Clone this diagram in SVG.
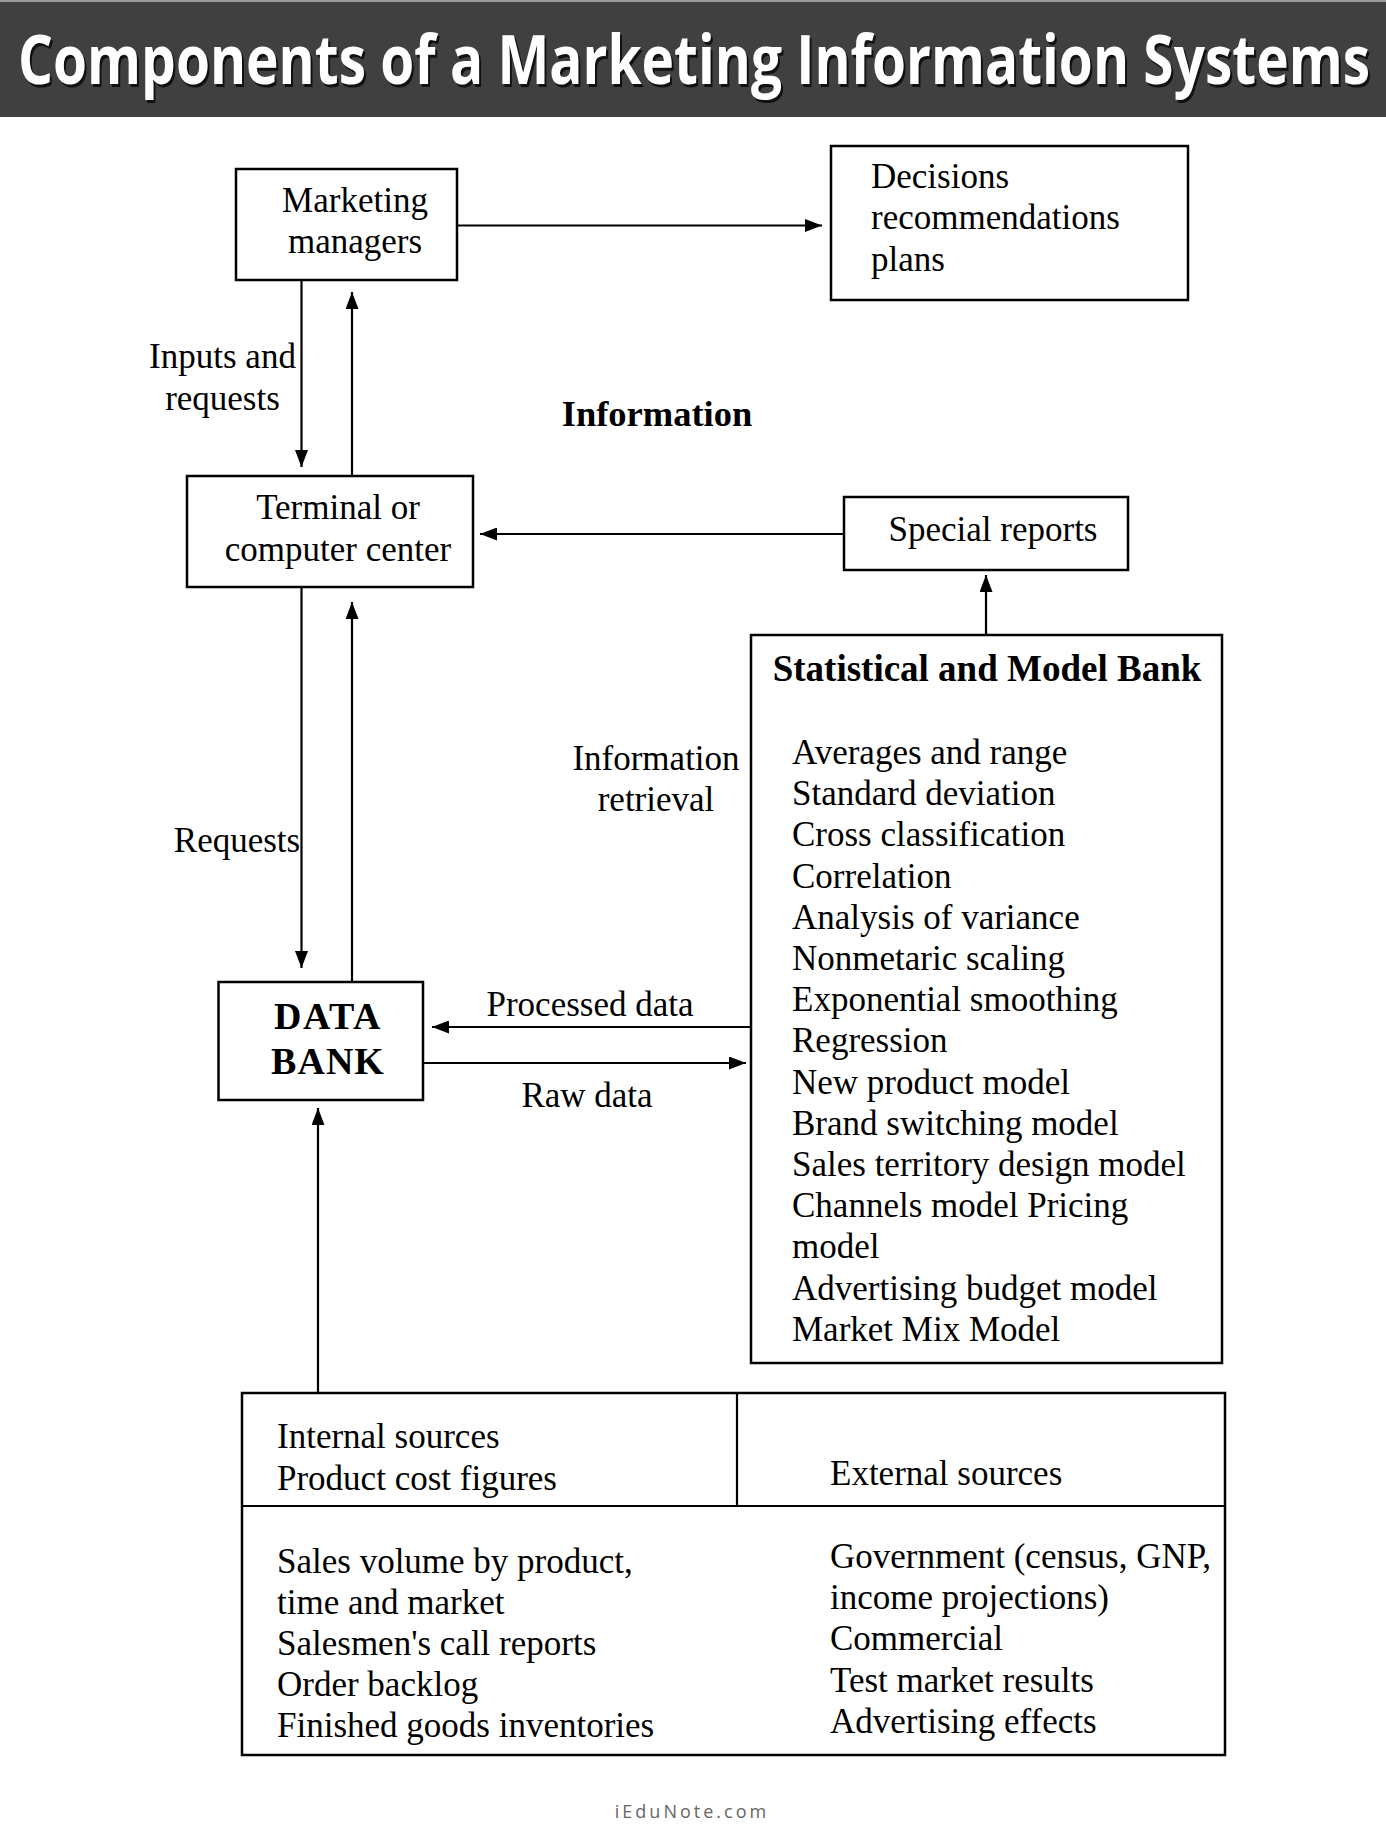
<svg xmlns="http://www.w3.org/2000/svg" width="1386" height="1832" viewBox="0 0 1386 1832">
<defs>
<style>
.box{fill:#fff;stroke:#000;stroke-width:2.5}
.ln{fill:none;stroke:#000;stroke-width:2.2}
.t{font-family:"Liberation Serif","Times New Roman",serif;font-size:35px;fill:#000}
.b{font-weight:bold}
.c{text-anchor:middle}
.ttl{font-family:"Open Sans","Noto Sans",sans-serif;font-weight:bold;font-size:68px}
</style>
<marker id="ah" viewBox="0 0 17 13" refX="17" refY="6.5" markerWidth="17" markerHeight="13" markerUnits="userSpaceOnUse" orient="auto">
<path d="M0,0 L17,6.5 L0,13 Z" fill="#000"/>
</marker>
</defs>
<rect x="0" y="0" width="1386" height="1832" fill="#fff"/>
<g id="title">
<rect x="0" y="0" width="1386" height="117" fill="#404040"/>
<rect x="0" y="0" width="1386" height="2" fill="#9a9a9a"/>
<g transform="translate(20,87) scale(0.74,1)">
<text class="ttl" x="0" y="0" fill="#111" textLength="1827" lengthAdjust="spacingAndGlyphs">Components of a Marketing Information Systems</text>
</g>
<g transform="translate(18,84) scale(0.74,1)">
<text class="ttl" x="0" y="0" fill="#fff" textLength="1827" lengthAdjust="spacingAndGlyphs">Components of a Marketing Information Systems</text>
</g>
</g>
<g id="connectors">
<line class="ln" x1="457" y1="225.5" x2="822" y2="225.5" marker-end="url(#ah)"/>
<line class="ln" x1="301.5" y1="280" x2="301.5" y2="467" marker-end="url(#ah)"/>
<line class="ln" x1="352" y1="476" x2="352" y2="292" marker-end="url(#ah)"/>
<line class="ln" x1="844" y1="534" x2="480" y2="534" marker-end="url(#ah)"/>
<line class="ln" x1="986" y1="635" x2="986" y2="575" marker-end="url(#ah)"/>
<line class="ln" x1="301.5" y1="587" x2="301.5" y2="968" marker-end="url(#ah)"/>
<line class="ln" x1="352" y1="982" x2="352" y2="602" marker-end="url(#ah)"/>
<line class="ln" x1="754" y1="1027" x2="432" y2="1027" marker-end="url(#ah)"/>
<line class="ln" x1="423" y1="1063" x2="746" y2="1063" marker-end="url(#ah)"/>
<line class="ln" x1="318" y1="1393" x2="318" y2="1108" marker-end="url(#ah)"/>
</g>
<g id="labels">
<text class="t c" x="222.5" y="368">Inputs and</text>
<text class="t c" x="222.5" y="410">requests</text>
<text class="t b c" x="657" y="426" style="font-size:36.5px">Information</text>
<text class="t c" x="237" y="852">Requests</text>
<text class="t c" x="656" y="770">Information</text>
<text class="t c" x="656" y="811">retrieval</text>
<text class="t c" x="590" y="1016">Processed data</text>
<text class="t c" x="587" y="1107">Raw data</text>
</g>
<g id="marketing-managers">
<rect class="box" x="236" y="169" width="221" height="111"/>
<text class="t c" x="355" y="212">Marketing</text>
<text class="t c" x="355" y="253">managers</text>
</g>
<g id="decisions">
<rect class="box" x="831" y="146" width="357" height="154"/>
<text class="t" x="871" y="188">Decisions</text>
<text class="t" x="871" y="229">recommendations</text>
<text class="t" x="871" y="271">plans</text>
</g>
<g id="terminal">
<rect class="box" x="187" y="476" width="286" height="111"/>
<text class="t c" x="338" y="519">Terminal or</text>
<text class="t c" x="338" y="561">computer center</text>
</g>
<g id="special-reports">
<rect class="box" x="844" y="497" width="284" height="73"/>
<text class="t c" x="993" y="541">Special reports</text>
</g>
<g id="statistical-bank">
<rect class="box" x="751" y="635" width="471" height="728"/>
<text class="t b c" x="987" y="681" style="font-size:37px">Statistical and Model Bank</text>
<text class="t" x="792" y="764">Averages and range</text>
<text class="t" x="792" y="805">Standard deviation</text>
<text class="t" x="792" y="846">Cross classification</text>
<text class="t" x="792" y="888">Correlation</text>
<text class="t" x="792" y="929">Analysis of variance</text>
<text class="t" x="792" y="970">Nonmetaric scaling</text>
<text class="t" x="792" y="1011">Exponential smoothing</text>
<text class="t" x="792" y="1052">Regression</text>
<text class="t" x="792" y="1094">New product model</text>
<text class="t" x="792" y="1135">Brand switching model</text>
<text class="t" x="792" y="1176">Sales territory design model</text>
<text class="t" x="792" y="1217">Channels model Pricing</text>
<text class="t" x="792" y="1258">model</text>
<text class="t" x="792" y="1300">Advertising budget model</text>
<text class="t" x="792" y="1341">Market Mix Model</text>
</g>
<g id="data-bank">
<rect class="box" x="218.5" y="982" width="204.5" height="118"/>
<text class="t b c" x="328" y="1029" style="font-size:38px;letter-spacing:1.5px">DATA</text>
<text class="t b c" x="328" y="1074" style="font-size:38px;letter-spacing:1px">BANK</text>
</g>
<g id="sources">
<rect class="box" x="242" y="1393" width="983" height="362"/>
<line class="ln" x1="242" y1="1506" x2="1225" y2="1506" stroke-width="2.5"/>
<line class="ln" x1="737" y1="1393" x2="737" y2="1506"/>
<text class="t" x="277" y="1448">Internal sources</text>
<text class="t" x="277" y="1490">Product cost figures</text>
<text class="t" x="830" y="1485">External sources</text>
<text class="t" x="277" y="1573">Sales volume by product,</text>
<text class="t" x="277" y="1614">time and market</text>
<text class="t" x="277" y="1655">Salesmen's call reports</text>
<text class="t" x="277" y="1696">Order backlog</text>
<text class="t" x="277" y="1737">Finished goods inventories</text>
<text class="t" x="830" y="1568">Government (census, GNP,</text>
<text class="t" x="830" y="1609">income projections)</text>
<text class="t" x="830" y="1650">Commercial</text>
<text class="t" x="830" y="1692">Test market results</text>
<text class="t" x="830" y="1733">Advertising effects</text>
</g>
<text x="692" y="1818" text-anchor="middle" font-family="'Open Sans','Noto Sans',sans-serif" font-size="18" letter-spacing="3" fill="#666">iEduNote.com</text>
</svg>
